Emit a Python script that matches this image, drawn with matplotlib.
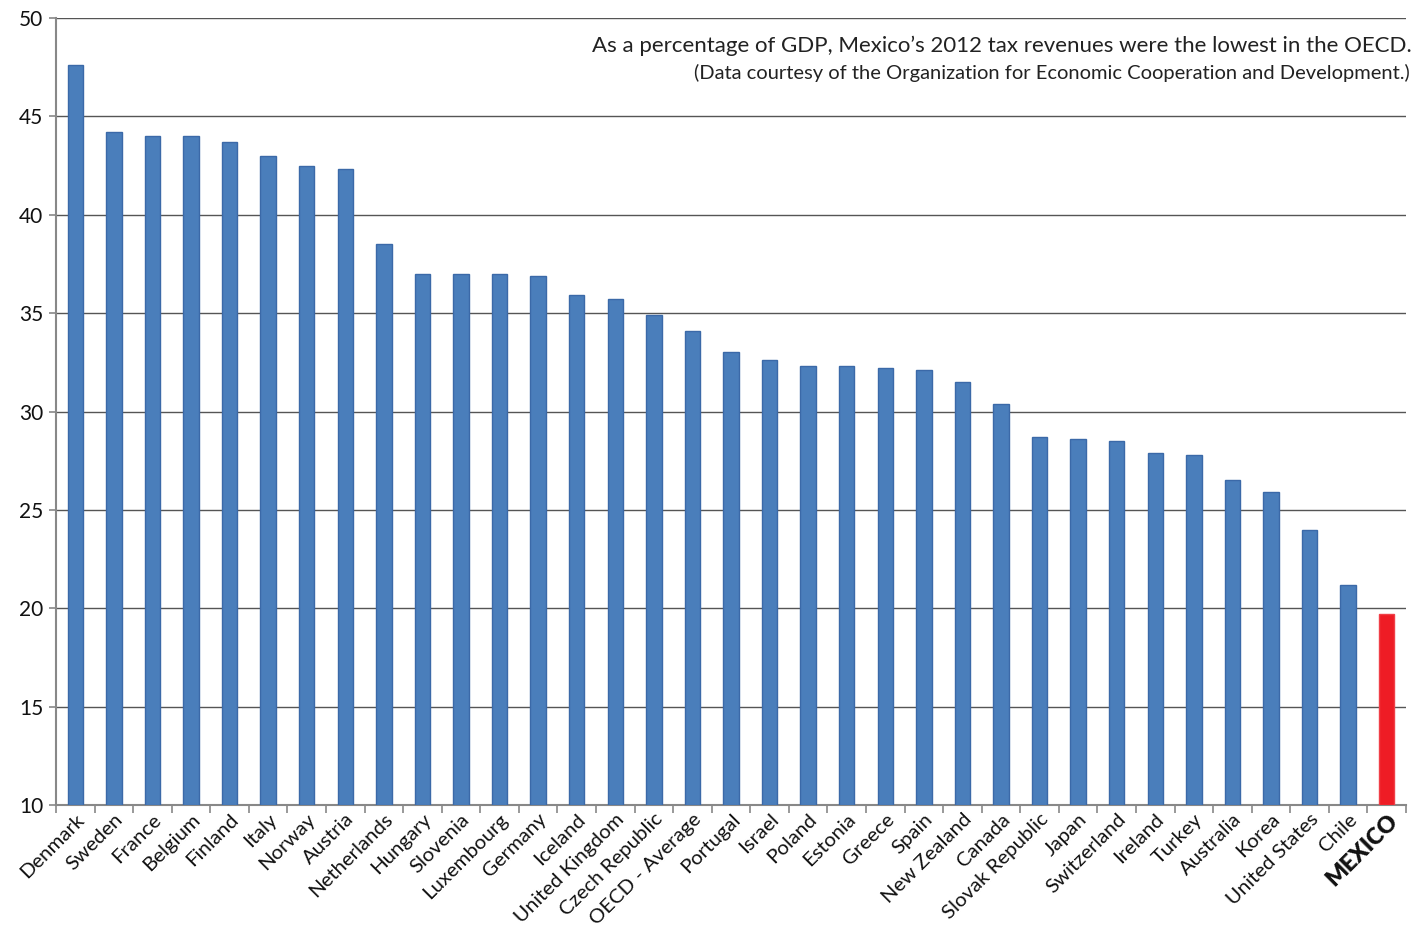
import matplotlib
matplotlib.use("Agg")
import matplotlib.pyplot as plt
from matplotlib.ticker import FixedLocator

countries = ["Denmark", "Sweden", "France", "Belgium", "Finland", "Italy", "Norway", "Austria",
             "Netherlands", "Hungary", "Slovenia", "Luxembourg", "Germany", "Iceland",
             "United Kingdom", "Czech Republic", "OECD - Average", "Portugal", "Israel", "Poland",
             "Estonia", "Greece", "Spain", "New Zealand", "Canada", "Slovak Republic", "Japan",
             "Switzerland", "Ireland", "Turkey", "Australia", "Korea", "United States", "Chile",
             "MEXICO"]
values = [47.6, 44.2, 44.0, 44.0, 43.7, 43.0, 42.5, 42.3, 38.5, 37.0, 37.0, 37.0, 36.9, 35.9,
          35.7, 34.9, 34.1, 33.0, 32.6, 32.3, 32.3, 32.2, 32.1, 31.5, 30.4, 28.7, 28.6, 28.5,
          27.9, 27.8, 26.5, 25.9, 24.0, 21.2, 19.7]
y_ticks = [10, 15, 20, 25, 30, 35, 40, 45, 50]
title = "As a percentage of GDP, Mexico\u2019s 2012 tax revenues were the lowest in the OECD."
subtitle = "(Data courtesy of the Organization for Economic Cooperation and Development.)"

plt.rcParams['font.family'] = ['Lato', 'DejaVu Sans']

fig = plt.figure(figsize=(14.26, 9.32), dpi=100)
ax = fig.add_axes([56/1426, 1 - 805/932, 1350/1426, 787/932])

n = len(countries)
x = list(range(n))
colors = ["#4A7EBB"] * (n - 1) + ["#EE1C25"]
edges = ["#3B69A8"] * (n - 1) + ["#F04048"]
bottom = y_ticks[0]
ax.bar(x, [v - bottom for v in values], bottom=bottom, width=0.4, color=colors,
       edgecolor=edges, linewidth=1.0, zorder=3)

ax.set_xlim(-0.5, n - 0.5)
ax.set_ylim(y_ticks[0], y_ticks[-1])
ax.set_yticks(y_ticks)
ax.set_yticklabels([str(t) for t in y_ticks], fontsize=15, color="#111111")
ax.yaxis.grid(True, color="#555555", linewidth=1.0, zorder=0)

ax.set_xticks(x)
ax.set_xticklabels(countries, rotation=45, ha="right", rotation_mode="anchor",
                   fontsize=14.7, color="#111111")
for lbl in ax.get_xticklabels():
    if lbl.get_text() == "MEXICO":
        lbl.set_fontweight("heavy")
        lbl.set_fontsize(16.5)
ax.tick_params(axis="x", which="major", length=0, pad=4)
ax.xaxis.set_minor_locator(FixedLocator([i - 0.5 for i in range(n + 1)]))
ax.tick_params(axis="x", which="minor", length=6, color="#888888", width=1.2)
ax.tick_params(axis="y", length=5, color="#888888", width=1.2, pad=4)

for s in ["top", "right"]:
    ax.spines[s].set_visible(False)
ax.spines["left"].set_color("#888888")
ax.spines["bottom"].set_color("#888888")
ax.spines["left"].set_linewidth(1.5)
ax.spines["bottom"].set_linewidth(1.5)

fig.text(1412/1426, 1 - 46/932, title, ha="right", va="center", fontsize=16, color="#222222")
fig.text(1410/1426, 1 - 73/932, subtitle, ha="right", va="center", fontsize=14.5, color="#222222")

fig.savefig("out.png", dpi=100)
